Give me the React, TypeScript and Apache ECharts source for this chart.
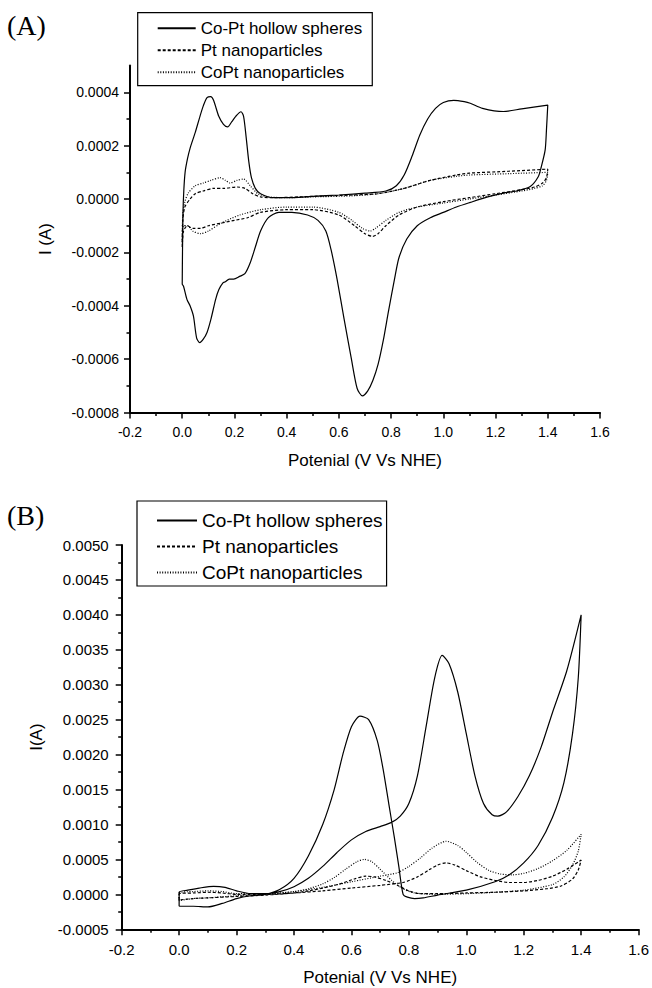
import React, { useEffect, useRef } from "react";
import * as echarts from "echarts";

const SERIES_NAMES = ["Co-Pt hollow spheres", "Pt nanoparticles", "CoPt nanoparticles"];

// (A) cyclic voltammograms [potential V, current A]
const aHollow: number[][] = [
  [0.0, -0.00032], [0.001, -0.0002], [0.003, -0.00005], [0.006, 0.00003], [0.011, 0.0001],
  [0.02, 0.00015], [0.03, 0.00019], [0.05, 0.00025], [0.068, 0.00031], [0.081, 0.00035],
  [0.095, 0.00038], [0.109, 0.000384], [0.12, 0.00037], [0.14, 0.00031], [0.158, 0.00028],
  [0.174, 0.00027], [0.19, 0.00029], [0.205, 0.00031], [0.225, 0.000327], [0.235, 0.00031],
  [0.245, 0.00023], [0.255, 0.00014], [0.265, 0.00008], [0.28, 0.00004], [0.3, 0.00002],
  [0.35, 0.000005], [0.4, 0.000005], [0.5, 0.00001], [0.6, 0.000015], [0.7, 0.000022],
  [0.78, 0.00003], [0.82, 0.00005], [0.85, 0.00009], [0.88, 0.00016], [0.91, 0.00024],
  [0.94, 0.0003], [0.97, 0.00034], [1.0, 0.000362], [1.04, 0.00037], [1.08, 0.000365],
  [1.103, 0.000359], [1.15, 0.00034], [1.23, 0.000328], [1.3, 0.000338], [1.4, 0.000352],
  [1.395, 0.00026], [1.39, 0.000184], [1.375, 0.00012], [1.364, 0.0000845], [1.333, 0.000047],
  [1.28, 0.00003], [1.23, 0.0000224], [1.17, 0.000008], [1.103, -0.0000127], [1.05, -0.00003],
  [1.0, -0.00005], [0.95, -0.00007], [0.9, -0.0001], [0.86, -0.00015], [0.83, -0.00022],
  [0.813, -0.0003], [0.79, -0.00042], [0.77, -0.00053], [0.75, -0.00062], [0.73, -0.00068],
  [0.71, -0.00072], [0.69, -0.000738], [0.67, -0.00071], [0.648, -0.0006], [0.62, -0.00045],
  [0.593, -0.0003], [0.57, -0.00019], [0.55, -0.00012], [0.52, -0.00008], [0.48, -0.00006],
  [0.42, -0.00005], [0.37, -0.00005], [0.33, -0.00007], [0.3, -0.00012], [0.28, -0.00018],
  [0.26, -0.00024], [0.24, -0.00028], [0.22, -0.00029], [0.197, -0.0003], [0.18, -0.0003],
  [0.165, -0.00031], [0.156, -0.000314], [0.14, -0.00034], [0.128, -0.000376], [0.11, -0.00045],
  [0.095, -0.0005], [0.08, -0.000526], [0.067, -0.000538], [0.055, -0.00052], [0.043, -0.000439],
  [0.03, -0.0004], [0.018, -0.000376], [0.005, -0.000327], [0.0, -0.00032],
];

const aPt: number[][] = [
  [0.0, -0.00018], [0.002, -0.00008], [0.01, -0.00003], [0.03, 0.0], [0.05, 0.00002],
  [0.08, 0.00003], [0.12, 0.00004], [0.16, 0.00004], [0.21, 0.000045], [0.24, 0.00004],
  [0.27, 0.00002], [0.3, 0.000008], [0.35, 0.000005], [0.5, 0.00001], [0.65, 0.000015],
  [0.75, 0.00002], [0.85, 0.00004], [0.95, 0.00007], [1.05, 0.00009], [1.1, 0.000097],
  [1.25, 0.000104], [1.4, 0.000112],
  [1.395, 0.00008], [1.38, 0.00006], [1.35, 0.000045], [1.3, 0.000035], [1.2, 0.00002],
  [1.1, 0.000005], [1.0, -0.00001], [0.9, -0.00003], [0.83, -0.00006], [0.78, -0.0001],
  [0.75, -0.00013], [0.73, -0.00014], [0.7, -0.00013], [0.66, -0.0001], [0.6, -0.00006],
  [0.5, -0.00004], [0.4, -0.00004], [0.3, -0.00005], [0.25, -0.00007], [0.2, -0.00008],
  [0.15, -0.00009], [0.1, -0.0001], [0.07, -0.00011], [0.04, -0.00011], [0.02, -0.0001],
  [0.005, -0.00012], [0.0, -0.00018],
];

const aCoPt: number[][] = [
  [0.0, -0.00016], [0.002, -0.00006], [0.01, -0.00001], [0.023, 0.000022], [0.05, 0.00005],
  [0.081, 0.00006], [0.11, 0.00007], [0.145, 0.00008], [0.165, 0.00007], [0.183, 0.00006],
  [0.21, 0.00007], [0.235, 0.000075], [0.26, 0.00005], [0.29, 0.00002], [0.33, 0.000008],
  [0.4, 0.000005], [0.5, 0.000008], [0.65, 0.000012], [0.75, 0.00002], [0.85, 0.00004],
  [0.95, 0.00007], [1.05, 0.000085], [1.1, 0.00009], [1.25, 0.000095], [1.4, 0.0001],
  [1.395, 0.00007], [1.38, 0.00005], [1.35, 0.00004], [1.3, 0.00003], [1.2, 0.000015],
  [1.1, 0.0], [1.0, -0.000015], [0.9, -0.00003], [0.83, -0.00005], [0.78, -0.00008],
  [0.74, -0.00011], [0.72, -0.00012], [0.69, -0.00011], [0.65, -0.00008], [0.6, -0.00005],
  [0.5, -0.00003], [0.4, -0.00003], [0.3, -0.00004], [0.22, -0.00006], [0.15, -0.00009],
  [0.1, -0.00012], [0.07, -0.00013], [0.04, -0.00012], [0.02, -0.0001], [0.005, -0.0001],
  [0.0, -0.00016],
];

// (B) cyclic voltammograms [potential V, current A]
const bHollow: number[][] = [
  [0.0, -0.00017], [0.0, 0.00003], [0.03, 0.00006], [0.07, 0.00009], [0.12, 0.000115],
  [0.16, 0.0001], [0.2, 0.00005], [0.25, 0.00001], [0.3, 0.00001], [0.35, 0.00004],
  [0.4, 0.00011], [0.45, 0.00023], [0.5, 0.0004], [0.55, 0.0006], [0.6, 0.00078],
  [0.65, 0.0009], [0.7, 0.00097], [0.74, 0.00103], [0.77, 0.00112], [0.8, 0.0013],
  [0.83, 0.0017], [0.86, 0.0024], [0.89, 0.0031], [0.916, 0.00342], [0.94, 0.0033],
  [0.97, 0.0029], [1.0, 0.0023], [1.03, 0.0017], [1.06, 0.0013], [1.09, 0.00114],
  [1.11, 0.00112], [1.14, 0.00118], [1.18, 0.0014], [1.22, 0.0017], [1.26, 0.0021],
  [1.3, 0.0026], [1.35, 0.0032], [1.4, 0.004],
  [1.39, 0.0031], [1.37, 0.0023], [1.34, 0.0016], [1.3, 0.0011], [1.25, 0.0007],
  [1.2, 0.00045], [1.15, 0.00028], [1.1, 0.00018], [1.0, 0.00006], [0.9, -0.00001],
  [0.85, -0.00005], [0.82, -0.00006], [0.795, -0.00004], [0.78, 0.0], [0.765, 0.0004],
  [0.75, 0.0008], [0.73, 0.0013], [0.71, 0.0018], [0.69, 0.0022], [0.66, 0.0025],
  [0.63, 0.00255], [0.6, 0.0024], [0.57, 0.002], [0.54, 0.0015], [0.5, 0.001],
  [0.45, 0.00055], [0.4, 0.00023], [0.35, 0.00007], [0.3, 0.0], [0.25, -0.00002],
  [0.2, -0.00006], [0.15, -0.00013], [0.1, -0.00018], [0.05, -0.00017], [0.0, -0.00017],
];

const bPt: number[][] = [
  [0.0, -0.00008], [0.0, 0.00001], [0.05, 0.00002], [0.1, 0.00003], [0.15, 0.00002],
  [0.2, 0.0], [0.3, 0.0], [0.4, 0.00002], [0.5, 0.00005], [0.6, 0.00009],
  [0.7, 0.00013], [0.78, 0.00017], [0.83, 0.00025], [0.87, 0.00035], [0.9, 0.00042],
  [0.93, 0.00045], [0.96, 0.00042], [1.0, 0.00034], [1.05, 0.00025], [1.1, 0.0002],
  [1.15, 0.00017], [1.2, 0.00017], [1.25, 0.0002], [1.3, 0.00026], [1.35, 0.00036],
  [1.4, 0.00049],
  [1.39, 0.00035], [1.37, 0.00022], [1.33, 0.00012], [1.28, 0.00008], [1.2, 0.00005],
  [1.1, 0.00003], [1.0, 0.00002], [0.9, 0.00001], [0.84, 0.00001], [0.8, 0.00005],
  [0.76, 0.00013], [0.72, 0.0002], [0.68, 0.00025], [0.65, 0.00026], [0.61, 0.00022],
  [0.56, 0.00015], [0.5, 0.00009], [0.45, 0.00005], [0.4, 0.00002], [0.3, -0.00001],
  [0.2, -0.00003], [0.1, -0.00005], [0.05, -0.00006], [0.0, -0.00008],
];

const bCoPt: number[][] = [
  [0.0, -0.00009], [0.0, 0.00002], [0.05, 0.00004], [0.1, 0.00005], [0.15, 0.00004],
  [0.2, 0.00001], [0.3, 0.00001], [0.4, 0.00004], [0.5, 0.0001], [0.6, 0.00018],
  [0.7, 0.00026], [0.76, 0.00031], [0.8, 0.0004], [0.84, 0.00052], [0.88, 0.00066],
  [0.93, 0.00076], [0.97, 0.0007], [1.0, 0.0006], [1.04, 0.00045], [1.08, 0.00034],
  [1.12, 0.00029], [1.16, 0.00028], [1.2, 0.0003], [1.25, 0.00037], [1.3, 0.00048],
  [1.35, 0.00063], [1.4, 0.00086],
  [1.39, 0.00062], [1.37, 0.00042], [1.34, 0.00025], [1.3, 0.00014], [1.2, 0.00006],
  [1.1, 0.00003], [1.0, 0.00001], [0.9, 0.0], [0.82, 0.00002], [0.78, 0.00008],
  [0.74, 0.0002], [0.7, 0.00036], [0.67, 0.00047], [0.645, 0.0005], [0.62, 0.00047],
  [0.58, 0.00036], [0.54, 0.00024], [0.5, 0.00015], [0.45, 0.00008], [0.4, 0.00004],
  [0.3, 0.0], [0.2, -0.00002], [0.1, -0.00005], [0.05, -0.00006], [0.0, -0.00009],
];

// tick values
const aMajorY = [-0.0008, -0.0006, -0.0004, -0.0002, 0.0, 0.0002, 0.0004];
const aMinorY = [-0.0007, -0.0005, -0.0003, -0.0001, 0.0001, 0.0003];

const FONT = '"Liberation Sans", Arial, Helvetica, sans-serif';
const SERIF = '"Liberation Serif", "Times New Roman", serif';

const LINE_TYPES: any[] = ["solid", [3, 2], [1, 1.6]];

export default function App() {
  const ref = useRef<HTMLDivElement>(null);

  useEffect(() => {
    document.body.style.margin = "0";
    const chart = echarts.init(ref.current!, null, { renderer: "svg" });

    const axisLine = { show: true, onZero: false, lineStyle: { color: "#000", width: 2 } };
    const fmtY = (v: number) => (Math.abs(v) < 1e-12 ? "0.0000" : v.toFixed(4));
    const fmtX = (v: number) => (Math.abs(v) < 1e-9 ? "0.0" : v.toFixed(1));

    const mkSeries = (data: number[][], idx: number, panel: number) => ({
      type: "line",
      name: SERIES_NAMES[idx],
      data,
      xAxisIndex: panel,
      yAxisIndex: panel,
      showSymbol: false,
      symbol: "none",
      smooth: 0.25,
      clip: true,
      lineStyle: { color: "#000", width: 1.2, type: LINE_TYPES[idx] },
      itemStyle: { color: "#000" },
    });

    const legendBase = {
      orient: "vertical",
      align: "left",
      selectedMode: false,
      borderColor: "#000",
      borderWidth: 1.2,
      backgroundColor: "#fff",
      itemStyle: { opacity: 0 },
      data: SERIES_NAMES,
    };

    chart.setOption({
      animation: false,
      backgroundColor: "#fff",
      textStyle: { fontFamily: FONT, color: "#000" },
      grid: [
        { left: 130, right: 52, top: 65.6, bottom: 575.5 },
        { left: 121.7, right: 12, top: 545, bottom: 58.7 },
      ],
      legend: [
        {
          ...legendBase,
          left: 137.7,
          top: 12.7,
          padding: [7, 10, 5, 19],
          itemWidth: 38,
          itemHeight: 14,
          itemGap: 5,
          textStyle: { fontSize: 17, fontFamily: FONT, color: "#000" },
        },
        {
          ...legendBase,
          left: 137,
          top: 501,
          padding: [10, 4, 4, 19],
          itemWidth: 40,
          itemHeight: 14,
          itemGap: 7,
          textStyle: { fontSize: 19, fontFamily: FONT, color: "#000" },
        },
      ],
      xAxis: [
        {
          type: "value",
          gridIndex: 0,
          position: "bottom",
          min: -0.2,
          max: 1.6,
          interval: 0.2,
          axisLine,
          axisTick: { show: true, length: 6, lineStyle: { color: "#000", width: 1.5 } },
          minorTick: { show: true, splitNumber: 2, length: 3.5, lineStyle: { color: "#000", width: 1.5 } },
          splitLine: { show: false },
          axisLabel: { fontSize: 14, color: "#000", margin: 12, formatter: fmtX },
          name: "Potenial (V Vs NHE)",
          nameLocation: "middle",
          nameGap: 39,
          nameTextStyle: { fontSize: 17, color: "#000", fontFamily: FONT },
        },
        {
          type: "value",
          gridIndex: 1,
          position: "bottom",
          min: -0.2,
          max: 1.6,
          interval: 0.2,
          axisLine,
          axisTick: { show: true, length: 6, lineStyle: { color: "#000", width: 1.5 } },
          minorTick: { show: true, splitNumber: 2, length: 3.5, lineStyle: { color: "#000", width: 1.5 } },
          splitLine: { show: false },
          axisLabel: { fontSize: 15, color: "#000", margin: 13, formatter: fmtX },
          name: "Potenial (V Vs NHE)",
          nameLocation: "middle",
          nameGap: 40,
          nameTextStyle: { fontSize: 17, color: "#000", fontFamily: FONT },
        },
      ],
      yAxis: [
        {
          type: "value",
          gridIndex: 0,
          position: "left",
          min: -0.0008,
          max: 0.0005,
          axisLine,
          axisTick: { show: true, length: 6, customValues: aMajorY, lineStyle: { color: "#000", width: 1.5 } },
          splitLine: { show: false },
          axisLabel: { fontSize: 14, color: "#000", margin: 11, customValues: aMajorY, formatter: fmtY },
          name: "I (A)",
          nameLocation: "middle",
          nameGap: 76,
          nameTextStyle: { fontSize: 17, color: "#000", fontFamily: FONT },
        },
        {
          type: "value",
          gridIndex: 1,
          position: "left",
          min: -0.0005,
          max: 0.005,
          interval: 0.0005,
          axisLine,
          axisTick: { show: true, length: 6, lineStyle: { color: "#000", width: 1.5 } },
          minorTick: { show: true, splitNumber: 2, length: 3.5, lineStyle: { color: "#000", width: 1.5 } },
          splitLine: { show: false },
          axisLabel: { fontSize: 15, color: "#000", margin: 13, formatter: fmtY },
          name: "I(A)",
          nameLocation: "middle",
          nameGap: 77,
          nameTextStyle: { fontSize: 17, color: "#000", fontFamily: FONT },
        },
        {
          type: "value",
          gridIndex: 0,
          position: "left",
          min: -0.0008,
          max: 0.0005,
          axisLine: { show: false, onZero: false },
          axisTick: { show: true, length: 3.5, customValues: aMinorY, lineStyle: { color: "#000", width: 1.5 } },
          splitLine: { show: false },
          axisLabel: { show: false },
        },
      ],
      graphic: [
        {
          type: "text",
          x: 7,
          y: 25,
          style: { text: "(A)", fontSize: 28, fontFamily: SERIF, fill: "#000", verticalAlign: "middle" },
        },
        {
          type: "text",
          x: 7,
          y: 515,
          style: { text: "(B)", fontSize: 28, fontFamily: SERIF, fill: "#000", verticalAlign: "middle" },
        },
      ],
      series: [
        mkSeries(aHollow, 0, 0),
        mkSeries(aPt, 1, 0),
        mkSeries(aCoPt, 2, 0),
        mkSeries(bHollow, 0, 1),
        mkSeries(bPt, 1, 1),
        mkSeries(bCoPt, 2, 1),
      ],
    });

    return () => chart.dispose();
  }, []);

  return <div ref={ref} style={{ width: 652, height: 988 }} />;
}
